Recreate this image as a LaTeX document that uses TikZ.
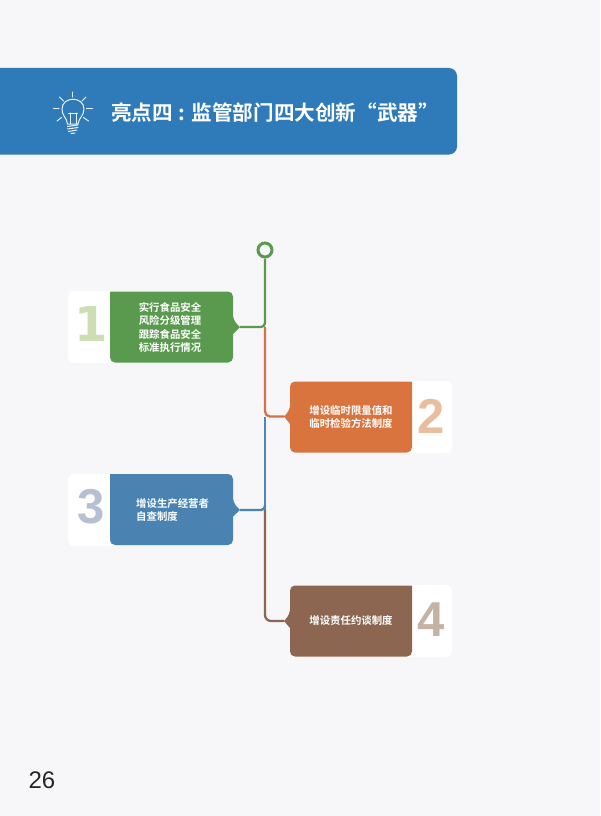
\documentclass[tikz,border=0pt]{standalone}
\usepackage{fontspec}
\usetikzlibrary{calc}
\setmainfont{Liberation Sans}
\newfontfamily\cjkbold[Scale=1.0]{Noto Sans CJK SC Bold}
\newfontfamily\numfont{DejaVu Sans Bold}
\newfontfamily\numfontb{Liberation Sans Bold}
\definecolor{pagebg}{HTML}{F7F7F9}
\definecolor{bannerblue}{HTML}{2F7AB9}
\definecolor{cgreen}{HTML}{5A9A4F}
\definecolor{corange}{HTML}{D9743F}
\definecolor{cblue}{HTML}{4A83B2}
\definecolor{cbrown}{HTML}{8C6651}
\definecolor{lineorange}{HTML}{D5704A}
\definecolor{lineblue}{HTML}{4F86B8}
\definecolor{numa}{HTML}{CFDDB5}
\definecolor{numb}{HTML}{E8BE9E}
\definecolor{numc}{HTML}{B5C0D3}
\definecolor{numd}{HTML}{C4B3A3}
\tikzset{
  boxarea/.style={minimum width=#1,minimum height=71pt,inner sep=0pt,outer sep=0pt},
  whitearea/.style={fill=white,rounded corners=6pt,minimum width=50pt,minimum height=72pt,inner sep=0pt},
  boxtext/.style={text=white,inner sep=0pt,font=\cjkbold\fontsize{10.4pt}{13pt}\selectfont},
  bigdigit/.style={inner sep=0pt,font=\numfontb\fontsize{49pt}{49pt}\selectfont},
  trunk/.style={line width=2.3pt},
  raysty/.style={draw=white!90!bannerblue,line width=1pt,line cap=round}
}
\newcommand{\tabright}[3]{% box, tip, colour
  \fill[#3] (#1.north west) [rounded corners=5pt] -- (#1.north east) -- ($(#1.east)+(0pt,7pt)$) [sharp corners] -- (#2) -- ($(#1.east)+(0pt,-7pt)$) [rounded corners=5pt] -- (#1.south east) -- (#1.south west) [sharp corners] -- cycle;}
\newcommand{\tableft}[3]{%
  \fill[#3] (#1.north east) [rounded corners=5pt] -- (#1.north west) -- ($(#1.west)+(0pt,7pt)$) [sharp corners] -- (#2) -- ($(#1.west)+(0pt,-7pt)$) [rounded corners=5pt] -- (#1.south west) -- (#1.south east) [sharp corners] -- cycle;}
\begin{document}
\begin{tikzpicture}[x=1pt,y=-1pt]
\useasboundingbox (0,0) rectangle (600,816);
\fill[pagebg] (0,0) rectangle (600,816);
% banner
\fill[bannerblue] (0,68) [rounded corners=8pt] -- (457,68) -- (457,154.5) [sharp corners] -- (0,154.5) -- cycle;
\node[text=white,inner sep=0pt,anchor=west,font=\cjkbold\fontsize{20.6pt}{24pt}\selectfont] (title) at (111,113) {亮点四\kern6pt:\kern6pt 监管部门四大创新“武器”};
% bulb icon
\begin{scope}[raysty]
\draw (72.7,92) -- (72.7,97);
\draw (53.5,108) -- (59,108);
\draw (86.5,108) -- (92.5,108);
\draw (59.5,97) -- (63.5,101);
\draw (86,97) -- (82,101);
\draw (57,121) -- (61.5,117.5);
\draw (88.5,121) -- (83.5,117.5);
\draw (67.5,124) .. controls (67,118) and (62,116) .. (62,109) .. controls (62,96) and (84,96) .. (84,109) .. controls (84,116) and (78.5,118) .. (78,124) -- cycle;
\draw (70,124) -- (70,113) (76,124) -- (76,113) (68.5,113) -- (77.5,113);
\draw (67.5,126.5) -- (78,125) (67.5,129) -- (78,127.5) (68.5,131.5) -- (77,130);
\draw (71,133.5) -- (75,133);
\end{scope}
% white number panels
\node[whitearea] (w1) at (93,327) {};
\node[whitearea] (w2) at (427,417) {};
\node[whitearea] (w3) at (93,510) {};
\node[whitearea] (w4) at (427,621) {};
% coordinates
\node[draw=cgreen,line width=3pt,circle,minimum size=14pt,inner sep=0pt] (top) at (265,250) {};
\coordinate (j1) at (265,327);
\coordinate (j2) at (265,417);
\coordinate (j3) at (265,510);
\coordinate (tip1) at (240,327);
\coordinate (tip2) at (284,416.5);
\coordinate (tip3) at (240,510);
\coordinate (tip4) at (284,621);
% trunk
\draw[trunk,lineorange,rounded corners=5pt] (j1) -- (265,416.5) -- (tip2);
\draw[trunk,lineblue] (j2) -- (j3);
\draw[trunk,cbrown,rounded corners=6pt] (j3) -- (265,621) -- (tip4);
\draw[trunk,cgreen,rounded corners=4pt] (top.south) -- (j1) -- (tip1);
\draw[trunk,cblue,rounded corners=4pt] (265,505) -- (j3) -- (tip3);
% boxes
\node[boxarea=123pt] (b1) at (171.5,327) {};
\node[boxarea=122pt] (b2) at (351,417) {};
\node[boxarea=123pt] (b3) at (171.5,509.5) {};
\node[boxarea=122pt] (b4) at (351,621) {};
\tabright{b1}{tip1}{cgreen}
\tableft{b2}{tip2}{corange}
\tabright{b3}{tip3}{cblue}
\tableft{b4}{tip4}{cbrown}
% box texts
\node[boxtext,align=center] (t1) at (170,327.5) {实行食品安全\\[0.3pt]风险分级管理\\[1.6pt]跟踪食品安全\\标准执行情况};
\node[boxtext,align=center] (t2) at (351,417.5) {增设临时限量值和\\临时检验方法制度};
\node[boxtext,align=left,anchor=west] (t3) at (136,510) {增设生产经营者\\自查制度};
\node[boxtext] (t4) at (351,621) {增设责任约谈制度};
% digits
\node[inner sep=0pt,text=numa,font=\numfont\fontsize{48pt}{48pt}\selectfont] (n1) at (91.5,324) {1};
\node[bigdigit,text=numb] (n2) at (431.5,416) {2};
\node[bigdigit,text=numc] (n3) at (91.5,507) {3};
\node[bigdigit,text=numd] (n4) at (431.5,620) {4};
% page number
\node[inner sep=0pt,text=black!85,font=\fontsize{24pt}{24pt}\selectfont] (pg) at (42,780) {26};
\end{tikzpicture}
\end{document}
